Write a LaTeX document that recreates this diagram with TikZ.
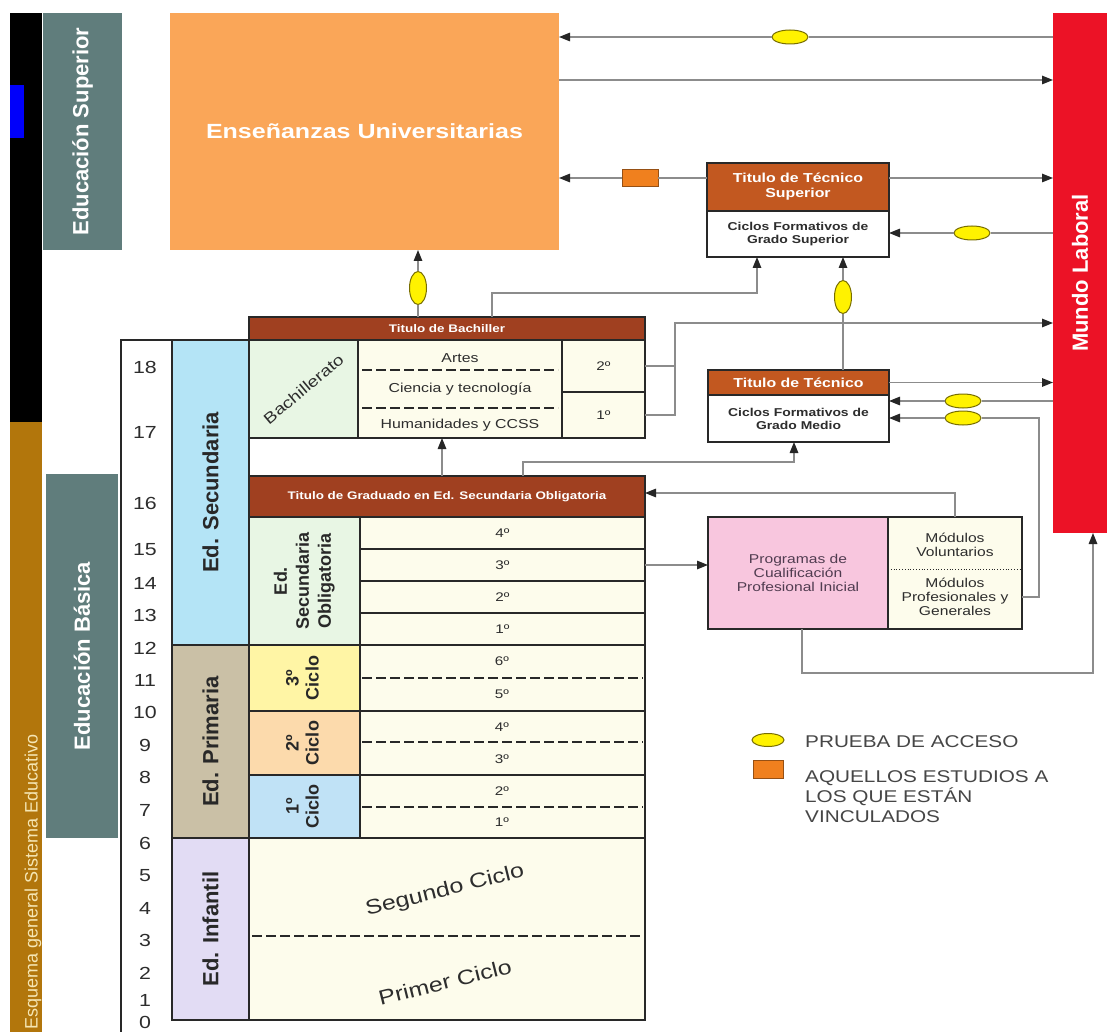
\documentclass[tikz,border=0pt]{standalone}
\usepackage{graphicx}
\usepackage{fontspec}
\setmainfont{Liberation Sans}
\newfontfamily\hf{Liberation Sans}[FakeStretch=1.22]
\usetikzlibrary{arrows.meta,shapes.geometric,calc}

\definecolor{bandbrown}{RGB}{178,118,12}
\definecolor{bandblue}{RGB}{0,0,250}
\definecolor{bandtext}{RGB}{245,230,180}
\definecolor{slate}{RGB}{96,125,124}
\definecolor{univor}{RGB}{250,166,88}
\definecolor{mundored}{RGB}{236,18,38}
\definecolor{titlebar}{RGB}{160,64,32}
\definecolor{techead}{RGB}{194,88,32}
\definecolor{cream}{RGB}{253,252,236}
\definecolor{lgreen}{RGB}{232,246,228}
\definecolor{secblue}{RGB}{180,228,246}
\definecolor{primtan}{RGB}{202,192,166}
\definecolor{cycthree}{RGB}{255,245,165}
\definecolor{cyctwo}{RGB}{252,218,172}
\definecolor{cycone}{RGB}{192,226,246}
\definecolor{infl}{RGB}{226,220,244}
\definecolor{pcpipink}{RGB}{248,198,222}
\definecolor{conn}{RGB}{140,140,140}
\definecolor{bord}{RGB}{40,40,40}
\definecolor{txt}{RGB}{45,45,45}
\definecolor{pctxt}{RGB}{80,60,80}
\definecolor{ellfill}{RGB}{255,242,0}
\definecolor{elldraw}{RGB}{120,110,0}
\definecolor{linkor}{RGB}{240,128,30}
\definecolor{legtxt}{RGB}{70,70,70}

\begin{document}
\begin{tikzpicture}[x=1pt,y=-1pt,
  box/.style={draw=bord, line width=1.5pt, inner sep=0pt, outer sep=0pt, anchor=north west, align=center, text=txt},
  flat/.style={inner sep=0pt, outer sep=0pt, anchor=north west, align=center},
  lnk/.style={draw=conn, line width=1.4pt},
  arr/.style={lnk, -{Triangle[length=11pt,width=8.5pt,color=black!85]}},
  acc/.style={ellipse, draw=elldraw, line width=1pt, fill=ellfill, minimum width=36pt, minimum height=14pt, inner sep=0pt},
  accv/.style={acc, minimum width=17pt, minimum height=33pt},
  dsh/.style={draw=bord, line width=1.3pt, dash pattern=on 10pt off 4pt},
  yr/.style={font=\hf\fontsize{12.5}{14}\selectfont, text=txt},
  mod/.style={font=\hf\fontsize{13}{15}\selectfont, text=txt},
  agenum/.style={font=\hf\fontsize{17.5}{19}\selectfont, text=txt},
  barT/.style={font=\hf\fontsize{11}{13}\selectfont\bfseries, text=white},
  tecT/.style={font=\hf\fontsize{13}{15}\selectfont\bfseries, text=white},
  tecB/.style={font=\hf\fontsize{11.4}{13}\selectfont\bfseries, text=txt},
  pcT/.style={font=\hf\fontsize{12.8}{14}\selectfont, text=pctxt},
]
\useasboundingbox (0,0) rectangle (1111,1032);
\fill[white] (0,0) rectangle (1111,1032);

% left band
\fill[black] (10,13) rectangle (42,422);
\fill[bandblue] (10,85) rectangle (24,138);
\fill[bandbrown] (10,422) rectangle (42,1032);
\node[inner sep=0pt, anchor=south, text=bandtext] (esq) at (33,1030) {\rotatebox{90}{\fontsize{18}{20}\selectfont Esquema general Sistema Educativo}};

% education level boxes
\node[flat, fill=slate, minimum width=79pt, minimum height=237pt, text=white] (edsup) at (43,13) {\rotatebox{90}{\fontsize{22}{24}\selectfont\bfseries Educación Superior}};
\node[flat, fill=slate, minimum width=72pt, minimum height=364pt, text=white] (edbas) at (46,474) {\rotatebox{90}{\fontsize{22}{24}\selectfont\bfseries Educación Básica}};

% university and work
\node[flat, fill=univor, minimum width=389pt, minimum height=237pt, text=white, font=\hf\fontsize{20.5}{23}\selectfont\bfseries] (univ) at (170,13) {Enseñanzas Universitarias};
\node[flat, fill=mundored, minimum width=54pt, minimum height=520pt, text=white] (mundo) at (1053,13) {\rotatebox{90}{\fontsize{22}{24}\selectfont\bfseries Mundo Laboral}};

% Tecnico superior
\node[box, fill=techead, minimum width=182pt, minimum height=48pt, tecT] (ttsh) at (707,163) {Titulo de Técnico\\Superior};
\node[box, fill=white, minimum width=182pt, minimum height=46pt, tecB] (ttsb) at (707,211) {Ciclos Formativos de\\Grado Superior};

% Tecnico
\node[box, fill=techead, minimum width=181pt, minimum height=25pt, tecT] (tech) at (708,370) {Titulo de Técnico};
\node[box, fill=white, minimum width=181pt, minimum height=47pt, tecB] (tecb) at (708,395) {Ciclos Formativos de\\Grado Medio};

% PCPI
\node[box, fill=pcpipink, minimum width=180pt, minimum height=112pt, pcT] (pcpi) at (708,517) {Programas de\\Cualificación\\Profesional Inicial};
\node[box, fill=cream, minimum width=134pt, minimum height=112pt] (mods) at (888,517) {};
\draw[bord, line width=0.8pt, dotted] (mods.west |- 0,569) -- (mods.east |- 0,569);
\node[pcT, align=center, text=txt] (modv) at (955,545) {Módulos\\Voluntarios};
\node[pcT, align=center, text=txt] (modp) at (955,597) {Módulos\\Profesionales y\\Generales};

% Bachillerato
\node[box, fill=titlebar, minimum width=396pt, minimum height=23pt, barT] (bach) at (249,317) {Titulo de Bachiller};
\node[box, fill=lgreen, minimum width=109pt, minimum height=98pt] (bachl) at (249,340) {};
\node[rotate=40, inner sep=0pt, font=\hf\fontsize{15.5}{17}\selectfont, text=txt] (bachT) at (bachl.center) {Bachillerato};
\node[box, fill=cream, minimum width=204pt, minimum height=98pt] (modal) at (358,340) {};
\node[mod] (artes) at (460,358) {Artes};
\node[mod] (cien) at (460,389) {Ciencia y tecnología};
\node[mod] (hum) at (460,425) {Humanidades y CCSS};
\draw[dsh] (362,370) -- (558,370);
\draw[dsh] (362,408) -- (558,408);
\node[box, fill=cream, minimum width=83pt, minimum height=52pt, yr] (y2) at (562,340) {2º};
\node[box, fill=cream, minimum width=83pt, minimum height=46pt, yr] (y1) at (562,392) {1º};

% age column
\draw[bord, line width=1.5pt] (121,1032) -- (121,340) -- (172,340);
\foreach \n/\yy in {18/367,17/432,16/503,15/550,14/583,13/615,12/648,11/680,10/712,9/745,8/777,7/810,6/843,5/876,4/908,3/940,2/973,1/1000,0/1022}
  \node[agenum] (age\n) at (145,\yy) {\n};

% Secundaria
\node[box, fill=secblue, minimum width=77pt, minimum height=305pt, text=bord] (sec) at (172,340) {\rotatebox{90}{\fontsize{22}{24}\selectfont\bfseries Ed. Secundaria}};
\node[box, fill=titlebar, minimum width=396pt, minimum height=41pt, barT] (grad) at (249,476) {Titulo de Graduado en Ed. Secundaria Obligatoria};
\node[box, fill=lgreen, minimum width=111pt, minimum height=128pt, text=bord] (esol) at (249,517) {\rotatebox{90}{\fontsize{18}{22}\selectfont\bfseries\begin{tabular}{@{}c@{}}Ed.\\Secundaria\\Obligatoria\end{tabular}}};
\node[box, fill=cream, minimum width=285pt, minimum height=32pt, yr] (e4) at (360,517) {4º};
\node[box, fill=cream, minimum width=285pt, minimum height=32pt, yr] (e3) at (360,549) {3º};
\node[box, fill=cream, minimum width=285pt, minimum height=32pt, yr] (e2) at (360,581) {2º};
\node[box, fill=cream, minimum width=285pt, minimum height=32pt, yr] (e1) at (360,613) {1º};

% Primaria
\node[box, fill=primtan, minimum width=77pt, minimum height=193pt, text=bord] (prim) at (172,645) {\rotatebox{90}{\fontsize{22}{24}\selectfont\bfseries Ed. Primaria}};
\node[box, fill=cycthree, minimum width=111pt, minimum height=66pt, text=bord] (cthree) at (249,645) {\rotatebox{90}{\fontsize{18}{20}\selectfont\bfseries\begin{tabular}{@{}c@{}}3º\\Ciclo\end{tabular}}};
\node[box, fill=cyctwo, minimum width=111pt, minimum height=64pt, text=bord] (ctwo) at (249,711) {\rotatebox{90}{\fontsize{18}{20}\selectfont\bfseries\begin{tabular}{@{}c@{}}2º\\Ciclo\end{tabular}}};
\node[box, fill=cycone, minimum width=111pt, minimum height=63pt, text=bord] (cone) at (249,775) {\rotatebox{90}{\fontsize{18}{20}\selectfont\bfseries\begin{tabular}{@{}c@{}}1º\\Ciclo\end{tabular}}};
\node[box, fill=cream, minimum width=285pt, minimum height=66pt] (pthree) at (360,645) {};
\node[box, fill=cream, minimum width=285pt, minimum height=64pt] (ptwo) at (360,711) {};
\node[box, fill=cream, minimum width=285pt, minimum height=63pt] (pone) at (360,775) {};
\draw[dsh] (362,678) -- (643,678);
\draw[dsh] (362,742) -- (643,742);
\draw[dsh] (362,807) -- (643,807);
\node[yr] (ysix) at (502,661) {6º};
\node[yr] (yfive) at (502,694) {5º};
\node[yr] (yfour) at (502,727) {4º};
\node[yr] (ythree) at (502,759) {3º};
\node[yr] (ytwo) at (502,791) {2º};
\node[yr] (yone) at (502,822) {1º};

% Infantil
\node[box, fill=infl, minimum width=77pt, minimum height=182pt, text=bord] (inf) at (172,838) {\rotatebox{90}{\fontsize{22}{24}\selectfont\bfseries Ed. Infantil}};
\node[box, fill=cream, minimum width=396pt, minimum height=182pt] (infc) at (249,838) {};
\draw[dsh] (252,936) -- (643,936);
\node[rotate=14, font=\hf\fontsize{20.5}{22}\selectfont, text=txt] (segc) at (445,891) {Segundo Ciclo};
\node[rotate=14, font=\hf\fontsize{20.5}{22}\selectfont, text=txt] (primc) at (445,982) {Primer Ciclo};

% access markers
\node[acc] (eA) at (790,37) {};
\node[acc] (eB) at (972,233) {};
\node[accv] (eC) at (418,288) {};
\node[accv] (eD) at (843,297) {};
\node[acc] (eE) at (963,401) {};
\node[acc] (eF) at (963,418) {};
\node[draw={rgb,255:red,150;green,80;blue,20}, line width=0.8pt, fill=linkor, minimum width=36pt, minimum height=17pt, inner sep=0pt] (orA) at (640,178) {};

% helper coordinates
\coordinate (yU) at (0,80);
\coordinate (yT) at (0,178);
\coordinate (b1) at (492,293);
\coordinate (b2) at (757,293);
\coordinate (m1) at (675,323);
\coordinate (p1) at (1039,597);
\coordinate (g1) at (442,0);
\coordinate (g2) at (523,462);
\coordinate (g3) at (794,462);
\coordinate (q1) at (955,493);
\coordinate (r1) at (802,673);
\coordinate (r2) at (1093,673);

% connectors
\draw[lnk] (mundo.west |- eA) -- (eA.east);
\draw[arr] (eA.west) -- (univ.east |- eA);
\draw[arr] (univ.east |- yU) -- (mundo.west |- yU);
\draw[lnk] (ttsh.west |- yT) -- (orA.east);
\draw[arr] (orA.west) -- (univ.east |- yT);
\draw[arr] (ttsh.east |- yT) -- (mundo.west |- yT);
\draw[lnk] (mundo.west |- eB) -- (eB.east);
\draw[arr] (eB.west) -- (ttsb.east |- eB);
\draw[lnk] (bach.north -| eC) -- (eC.south);
\draw[arr] (eC.north) -- (univ.south -| eC);
\draw[arr] (bach.north -| b1) -- (b1) -- (b2) -- (ttsb.south -| b2);
\draw[lnk] (y2.east) -- (y2.east -| m1);
\draw[arr] (y1.east) -- (y1.east -| m1) -- (m1) -- (mundo.west |- m1);
\draw[lnk] (tech.north -| eD) -- (eD.south);
\draw[arr] (eD.north) -- (ttsb.south -| eD);
\draw[arr] (tech.east) -- (mundo.west |- tech.east);
\draw[lnk] (mundo.west |- eE) -- (eE.east);
\draw[arr] (eE.west) -- (tecb.east |- eE);
\draw[lnk] (mods.east |- p1) -- (p1) -- (p1 |- eF) -- (eF.east);
\draw[arr] (eF.west) -- (tecb.east |- eF);
\draw[arr] (grad.north -| g1) -- (modal.south -| g1);
\draw[arr] (grad.north -| g2) -- (g2) -- (g3) -- (tecb.south -| g3);
\draw[arr] (mods.north -| q1) -- (q1) -- (grad.east |- q1);
\draw[arr] (e3.east) -- (pcpi.west |- e3.east);
\draw[arr] (pcpi.south -| r1) -- (r1) -- (r2) -- (mundo.south -| r2);

% legend
\node[acc, minimum width=32pt, minimum height=13pt] (legE) at (768,740) {};
\node[anchor=west, inner sep=0pt, font=\hf\fontsize{17}{20}\selectfont, text=legtxt] (legA) at (805,742) {PRUEBA DE ACCESO};
\node[draw={rgb,255:red,150;green,80;blue,20}, line width=0.8pt, fill=linkor, minimum width=30pt, minimum height=18pt, inner sep=0pt] (legO) at (768,769) {};
\node[anchor=west, inner sep=0pt, align=left, font=\hf\fontsize{17}{20}\selectfont, text=legtxt] (legB) at (805,797) {AQUELLOS ESTUDIOS A\\LOS QUE ESTÁN\\VINCULADOS};
\end{tikzpicture}
\end{document}
